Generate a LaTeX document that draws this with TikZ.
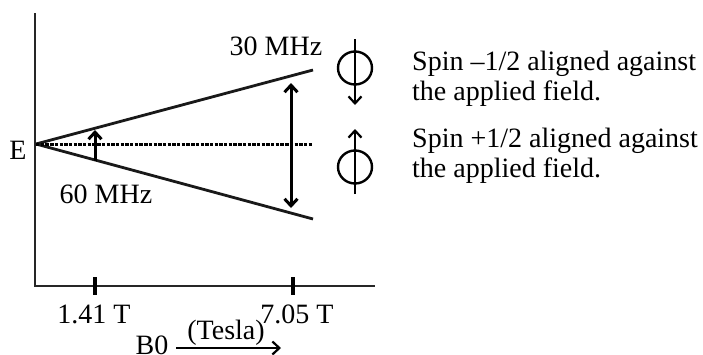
\documentclass[tikz,border=0pt]{standalone}
\usepackage{fontspec}
\setmainfont{Liberation Serif}
\usetikzlibrary{arrows.meta,shapes.geometric}
\begin{document}
\begin{tikzpicture}[x=1pt,y=-1pt,
  lbl/.style={font=\fontsize{28}{30}\selectfont, inner sep=0pt, anchor=base},
  txt/.style={font=\fontsize{28}{30}\selectfont, inner sep=0pt, anchor=base west, align=left},
  axis/.style={line width=2.6pt, black!85},
  level/.style={line width=2.8pt, black!90},
  arr/.style={line width=3pt, -{Straight Barb[length=7pt,width=13pt]}},
  darr/.style={line width=3pt, {Straight Barb[length=7pt,width=13pt]}-{Straight Barb[length=7pt,width=13pt]}},
  spin/.style={line width=2.2pt, -{Straight Barb[length=7pt,width=13pt]}},
  ring/.style={draw, ellipse, line width=2.4pt, minimum width=34pt, minimum height=33pt, inner sep=0pt}]
\useasboundingbox (0,0) rectangle (703,354);
% axes
\coordinate (ytop) at (35,13);
\coordinate (orig) at (35,286);
\coordinate (xend) at (375,286);
\draw[axis] (ytop) -- (orig) -- (xend);
\coordinate (t1a) at (95,277); \coordinate (t1b) at (95,295);
\coordinate (t2a) at (293,277); \coordinate (t2b) at (293,295);
\draw[line width=3.2pt] (t1a) -- (t1b);
\draw[line width=3.2pt] (t2a) -- (t2b);
% levels
\coordinate (E) at (36,144);
\coordinate (up) at (313,70);
\coordinate (dn) at (313,219);
\coordinate (mid) at (313,144);
\draw[level] (E) -- (up);
\draw[level] (E) -- (dn);
\draw[line width=3pt, dash pattern=on 3.4pt off 1.3pt] (E) -- (mid);
% transition arrows
\coordinate (s1) at (95,161); \coordinate (s2) at (95,130);
\draw[arr] (s1) -- (s2);
\coordinate (b1) at (291,83); \coordinate (b2) at (291,208);
\draw[darr] (b1) -- (b2);
% labels
\node[lbl] (lE) at (18,159) {E};
\node[lbl] (l30) at (276,55) {30 MHz};
\node[lbl] (l60) at (106,203) {60 MHz};
\node[lbl] (l141) at (94,323) {1.41 T};
\node[lbl] (l705) at (297,323) {7.05 T};
\node[lbl] (lT) at (226,339) {(Tesla)};
\node[lbl] (lB) at (152,354) {B0};
\coordinate (ba) at (176,348); \coordinate (bb) at (281,348);
\draw[line width=2.2pt, -{Straight Barb[length=7pt,width=13pt]}] (ba) -- (bb);
% spin symbols
\node[ring] (c1) at (355,68) {};
\coordinate (c1t) at (355,39); \coordinate (c1b) at (355,105);
\draw[spin] (c1t) -- (c1b);
\node[ring] (c2) at (355,167) {};
\coordinate (c2b) at (355,194); \coordinate (c2t) at (355,129);
\draw[spin] (c2b) -- (c2t);
% descriptions
\node[txt] (d1a) at (412,70) {Spin –1/2 aligned against};
\node[txt] (d1b) at (412,100) {the applied field.};
\node[txt] (d2a) at (412,147) {Spin +1/2 aligned against};
\node[txt] (d2b) at (412,177) {the applied field.};
\end{tikzpicture}
\end{document}
